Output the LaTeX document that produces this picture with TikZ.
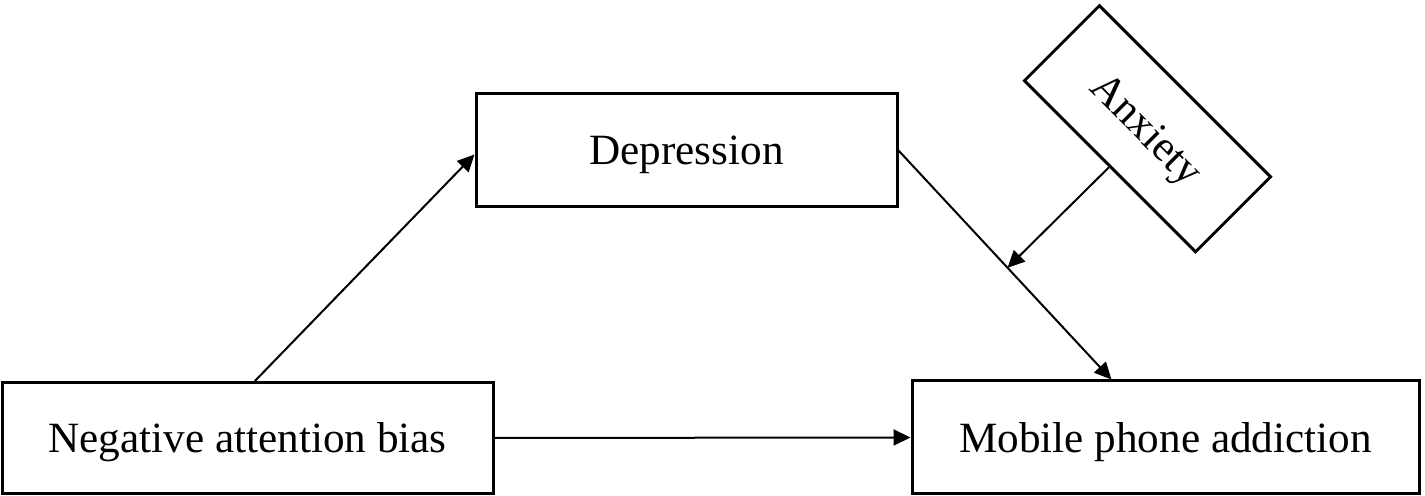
\documentclass[tikz,border=0pt]{standalone}
\usepackage{fontspec}
\setmainfont{Liberation Serif}
\usepackage{tikz}
\usetikzlibrary{arrows.meta,calc,positioning}

\tikzset{
  varbox/.style={draw, line width=1.5pt, inner sep=0pt, text depth=0pt,
    font=\fontsize{21.6}{26}\selectfont},
  effect/.style={line width=1pt, -{Triangle[length=8.5pt,width=8pt]}}
}

\begin{document}
\begin{tikzpicture}[x=0.5pt,y=0.5pt]
    \useasboundingbox (0,0) rectangle (1425,496);

    \node[varbox, minimum width=245.5pt, minimum height=55.5pt] (neg) at (247.5,58) {Negative attention bias};
    \node[varbox, minimum width=253.5pt, minimum height=56.5pt] (mob) at (1165.5,58.5) {Mobile phone addiction};
    \node[varbox, minimum width=210.5pt, minimum height=56.5pt] (dep) at (686.5,345.5) {Depression};
    \node[varbox, minimum width=121pt, minimum height=53pt, rotate=-45] (anx) at (1147.5,367.25) {Anxiety};

    \coordinate (negtop) at ($(neg.north west)!0.515!(neg.north east)$);
    \coordinate (mobtop) at ($(mob.north west)!0.394!(mob.north east)$);
    \coordinate (hit) at ($(dep.east)!0.512!(mobtop)$);

    \draw[effect] (negtop) -- ([yshift=-2pt]dep.west);
    \draw[effect] (dep.east) -- (mobtop);
    \draw[effect] (neg.east) -- (mob.west);
    \draw[effect] (anx.south) -- (hit);
\end{tikzpicture}
\end{document}
